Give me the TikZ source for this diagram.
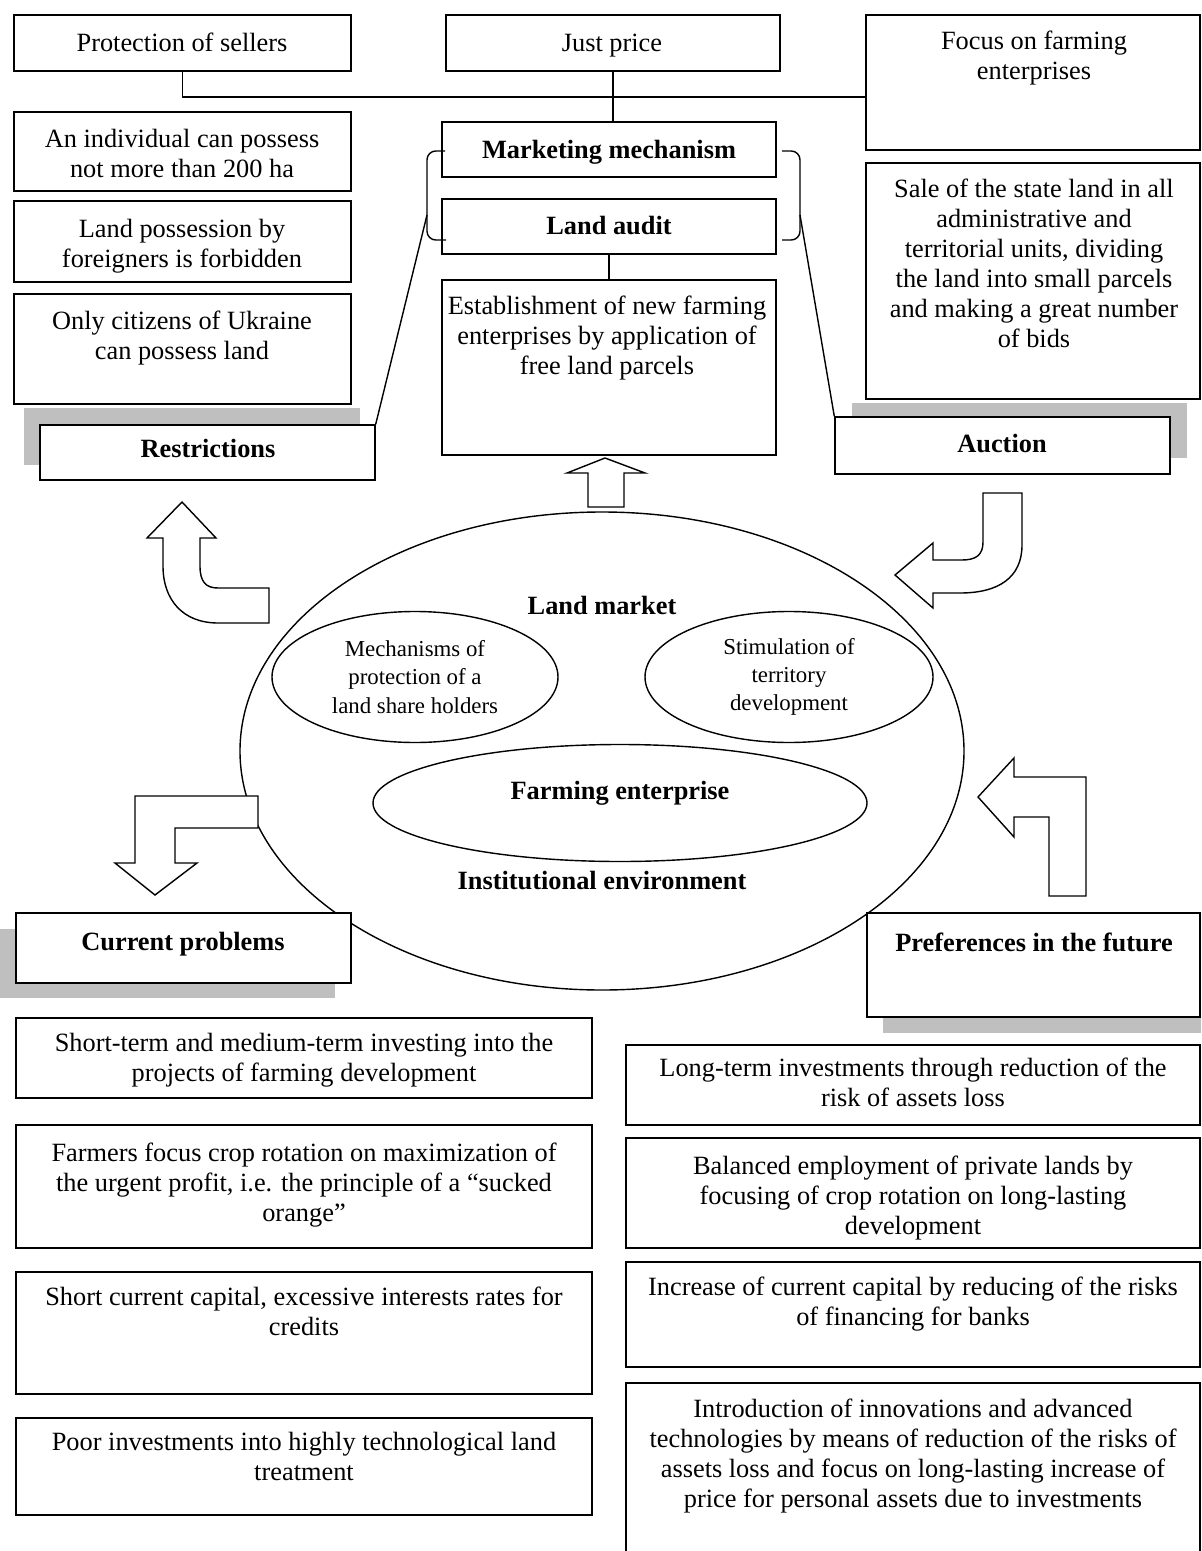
\documentclass[tikz,border=0pt]{standalone}
\usepackage{fontspec}
\setmainfont{Liberation Serif}
\usetikzlibrary{fit,shapes.geometric}

\tikzset{
  box/.style={draw, line width=0.8pt, fill=white, inner sep=0pt},
  txt/.style={align=center, inner sep=0pt, font=\fontsize{15}{17}\selectfont, yshift=-2.2pt,
    execute at begin node={\strut}, execute at end node={\strut}},
  head/.style={txt, font=\fontsize{15}{17}\selectfont\bfseries},
  oval/.style={ellipse, draw, line width=0.8pt, inner sep=0pt, align=center, font=\fontsize{13}{16}\selectfont},
  shadowfill/.style={fill=black!25},
  blockarrow/.style={draw, line width=0.8pt, fill=white, line join=miter},
  bracket/.style={draw, line width=0.8pt, rounded corners=5pt},
  link/.style={draw, line width=0.8pt},
}

\begin{document}
\begin{tikzpicture}[x=0.02cm, y=-0.02cm]

  \newcommand\pix{0.02cm}
  \useasboundingbox (0,0) rectangle (1201,1551);

  %% land market
  \node[oval, minimum width=724*\pix, minimum height=478*\pix] (landmkt) at (602,751) {};
  \node[oval, minimum width=286*\pix, minimum height=131*\pix] (protect) at (415,677) {Mechanisms of\\protection of a\\land share holders};
  \node[oval, minimum width=288*\pix, minimum height=131*\pix] (stimul) at (789,677) {Stimulation of\\territory\\development};
  \node[oval, minimum width=494*\pix, minimum height=117*\pix] (farm) at (620,803) {};
  \node[head] (landmkt-t) at (602,605) {Land market};
  \node[head] (farm-t) at (620,790) {Farming enterprise};
  \node[head] (instit-t) at (602,880) {Institutional environment};

  %% shadows
  \fill[shadowfill] (24,408) rectangle (360,465);
  \fill[shadowfill] (852,403) rectangle (1187,458);
  \fill[shadowfill] (0,929) rectangle (335,998);
  \fill[shadowfill] (883,930) rectangle (1201,1033);

  %% top row
  \node[box, fit={(14,15) (351,71)}] (sellers) {};
  \node[txt] (sellers-t) at (182,42) {Protection of sellers};
  \node[box, fit={(446,15) (780,71)}] (just) {};
  \node[txt] (just-t) at (612,42) {Just price};
  \node[box, fit={(866,15) (1200,150)}] (focus) {};
  \node[txt] (focus-t) at (1034,56) {Focus on farming\\enterprises};

  %% restrictions
  \node[box, fit={(14,112) (351,191)}] (indiv) {};
  \node[txt] (indiv-t) at (182,154) {An individual can possess\\not more than 200 ha};
  \node[box, fit={(14,201) (351,282)}] (foreign) {};
  \node[txt] (foreign-t) at (182,244) {Land possession by\\foreigners is forbidden};
  \node[box, fit={(14,294) (351,404)}] (citizens) {};
  \node[txt] (citizens-t) at (182,336) {Only citizens of Ukraine\\can possess land};
  \node[box, fit={(40,425) (375,480)}] (restr) {};
  \node[head] (restr-t) at (208,448) {Restrictions};

  %% centre column
  \node[box, fit={(442,122) (776,177)}] (mkt) {};
  \node[head] (mkt-t) at (609,149) {Marketing mechanism};
  \node[box, fit={(442,199) (776,254)}] (audit) {};
  \node[head] (audit-t) at (609,225) {Land audit};
  \node[box, fit={(442,280) (776,455)}] (estab) {};
  \node[txt] (estab-t) at (607,336) {Establishment of new farming\\enterprises by application of\\free land parcels};

  %% auction
  \node[box, fit={(866,163) (1200,399)}] (sale) {};
  \node[txt] (sale-t) at (1034,264) {Sale of the state land in all\\administrative and\\territorial units, dividing\\the land into small parcels\\and making a great number\\of bids};
  \node[box, fit={(835,417) (1170,474)}] (auction) {};
  \node[head] (auction-t) at (1002,443) {Auction};

  %% problems and preferences
  \node[box, fit={(16,913) (351,983)}] (current) {};
  \node[head] (current-t) at (183,941) {Current problems};
  \node[box, fit={(867,913) (1200,1017)}] (prefs) {};
  \node[head] (prefs-t) at (1034,942) {Preferences in the future};

  \node[box, fit={(16,1018) (592,1098)}] (sterm) {};
  \node[txt] (sterm-t) at (304,1058) {Short-term and medium-term investing into the\\projects of farming development};
  \node[box, fit={(16,1125) (592,1248)}] (orange) {};
  \node[txt] (orange-t) at (304,1183) {Farmers focus crop rotation on maximization of\\the urgent profit, i.e. the principle of a “sucked\\orange”};
  \node[box, fit={(16,1272) (592,1394)}] (credit) {};
  \node[txt] (credit-t) at (304,1312) {Short current capital, excessive interests rates for\\credits};
  \node[box, fit={(16,1418) (592,1515)}] (poorinv) {};
  \node[txt] (poorinv-t) at (304,1457) {Poor investments into highly technological land\\treatment};

  \node[box, fit={(626,1045) (1200,1125)}] (longinv) {};
  \node[txt] (longinv-t) at (913,1083) {Long-term investments through reduction of the\\risk of assets loss};
  \node[box, fit={(626,1138) (1200,1248)}] (balance) {};
  \node[txt] (balance-t) at (913,1196) {Balanced employment of private lands by\\focusing of crop rotation on long-lasting\\development};
  \node[box, fit={(626,1262) (1200,1367)}] (capital) {};
  \node[txt] (capital-t) at (913,1302) {Increase of current capital by reducing of the risks\\of financing for banks};
  \node[box, fit={(626,1383) (1200,1570)}] (innov) {};
  \node[txt] (innov-t) at (913,1454) {Introduction of innovations and advanced\\technologies by means of reduction of the risks of\\assets loss and focus on long-lasting increase of\\price for personal assets due to investments};

  %% connectors
  \coordinate (bus) at (612,97);
  \draw[link] (sellers.south) |- (bus) -- (bus -| focus.west);
  \draw[link] (just.south) -- (just.south |- mkt.north);
  \draw[link] (audit.south) -- (estab.north);

  \draw[bracket] (445,151) -- (427,151) -- (427,240) -- (446,240);
  \draw[bracket] (782,151) -- (800,151) -- (800,240) -- (782,240);
  \coordinate (lbrk) at (427,215);
  \coordinate (rbrk) at (800,215);
  \draw[link] (lbrk) -- (restr.north east);
  \draw[link] (rbrk) -- (auction.north west);

  %% block arrows
  \draw[blockarrow] (588,507) -- (588,473) -- (567,473) -- (605,458) -- (645,473) -- (624,473) -- (624,507) -- cycle;
  \draw[blockarrow] (163,538) -- (147,538) -- (182,502) -- (216,538) -- (200,538) -- (200,566)
    .. controls (200,582) and (206,588) .. (218,588) -- (269,588) -- (269,623) -- (218,623)
    .. controls (183,623) and (163,600) .. (163,566) -- cycle;
  \draw[blockarrow] (983,493) -- (1022,493) -- (1022,545) .. controls (1022,578) and (998,593) .. (960,593)
    -- (933,593) -- (933,608) -- (895,575) -- (933,543) -- (933,560) -- (962,560)
    .. controls (976,560) and (983,555) .. (983,542) -- cycle;
  \draw[blockarrow] (135,796) -- (258,796) -- (258,828) -- (175,828) -- (175,863) -- (197,863)
    -- (155,895) -- (115,863) -- (135,863) -- cycle;
  \draw[blockarrow] (978,797) -- (1014,758) -- (1014,777) -- (1086,777) -- (1086,896) -- (1049,896)
    -- (1049,817) -- (1014,817) -- (1014,837) -- cycle;

\end{tikzpicture}
\end{document}
